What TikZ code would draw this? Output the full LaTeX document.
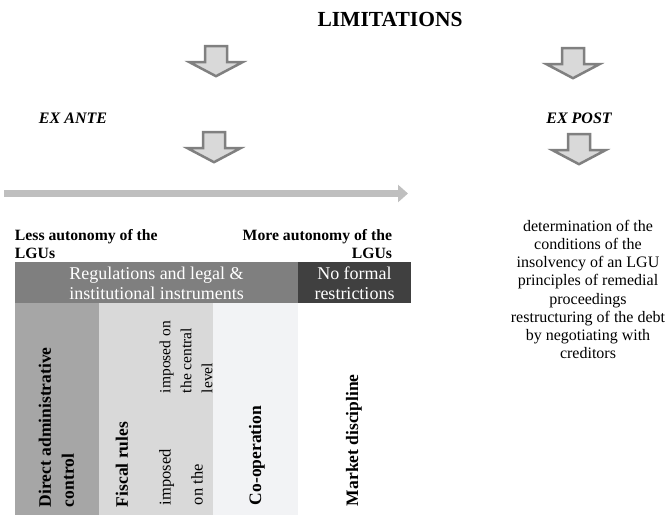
\documentclass[tikz,border=0pt]{standalone}
\usepackage{fontspec}
\setmainfont{Liberation Serif}
\usetikzlibrary{arrows.meta}
\definecolor{arrowfill}{HTML}{D9D9D9}
\definecolor{arrowedge}{HTML}{808080}
\definecolor{longarrow}{HTML}{BFBFBF}
\definecolor{hdrgray}{HTML}{7F7F7F}
\definecolor{hdrdark}{HTML}{404040}
\definecolor{colone}{HTML}{A6A6A6}
\definecolor{coltwo}{HTML}{D9D9D9}
\definecolor{colthree}{HTML}{F2F3F5}
\begin{document}
\begin{tikzpicture}[x=1pt,y=-1pt,
  blockarrow/.style={fill=arrowfill, draw=arrowedge, line width=2.5pt, line join=miter},
  downarrow/.pic={\path[blockarrow] (-11,0) -- (-11,16) -- (-26.5,16) -- (0,30) -- (26.5,16) -- (11,16) -- (11,0) -- cycle;},
  every node/.style={inner sep=0pt, outer sep=0pt},
  titletext/.style={font=\fontsize{21.5}{24}\selectfont\bfseries},
  phasetext/.style={font=\fontsize{16}{18}\selectfont\bfseries\itshape},
  autotext/.style={font=\fontsize{15.7}{18}\selectfont\bfseries},
  hdrtext/.style={font=\fontsize{18}{20}\selectfont, text=white, align=center},
  vbold/.style={font=\fontsize{17.5}{23}\selectfont\bfseries, rotate=90, anchor=west, align=left},
  vplain/.style={rotate=90, anchor=west, align=left},
  bodytext/.style={font=\fontsize{16}{18.2}\selectfont, align=center}
]
\useasboundingbox (0,0) rectangle (667,516);

% title and phases
\node[titletext] (title) at (390,19) {LIMITATIONS};
\node[phasetext] (exante) at (73,118) {EX ANTE};
\node[phasetext] (expost) at (579,118) {EX POST};

% block arrows
\coordinate (a1) at (216,46.2);
\coordinate (a2) at (214,132.2);
\coordinate (b1) at (573,48.2);
\coordinate (b2) at (579,134.2);
\pic at (a1) {downarrow};
\pic at (a2) {downarrow};
\pic at (b1) {downarrow};
\pic at (b2) {downarrow};

% long arrow
\coordinate (ls) at (4,193.5);
\coordinate (le) at (408,193.5);
\draw[line width=7pt, color=longarrow, -{Triangle[length=10pt,width=17pt]}] (ls) -- (le);

% autonomy labels
\node[autotext, anchor=west, align=left] (less) at (15,244) {Less autonomy of the\\LGUs};
\node[autotext, anchor=east, align=right] (more) at (392,244) {More autonomy of the\\LGUs};

% table backgrounds
\fill[hdrgray] (15,262) rectangle (298,303);
\fill[hdrdark] (298,262) rectangle (411,303);
\fill[colone] (15,303) rectangle (99,515);
\fill[coltwo] (99,303) rectangle (213,515);
\fill[colthree] (213,303) rectangle (298,515);

% header texts
\node[hdrtext] (regs) at (156.5,283) {Regulations and legal \&\\institutional instruments};
\node[hdrtext] (noformal) at (354.5,283) {No formal\\restrictions};

% column texts
\node[vbold] (direct) at (56.5,507) {Direct administrative\\control};
\node[vbold] (fiscal) at (122,507) {Fiscal rules};
\node[vplain, font=\fontsize{16.5}{32}\selectfont] (implocal) at (181,505) {imposed\\on the};
\node[vplain, font=\fontsize{15.5}{21}\selectfont] (impcentral) at (186,393) {imposed on\\the central\\level};
\node[vbold] (coop) at (257,505) {Co-operation};
\node[vbold] (market) at (354,506) {Market discipline};

% ex post description
\node[bodytext] (desc) at (588,289.5) {determination of the\\conditions of the\\insolvency of an LGU\\principles of remedial\\proceedings\\restructuring of the debt\\by negotiating with\\creditors};
\end{tikzpicture}
\end{document}
